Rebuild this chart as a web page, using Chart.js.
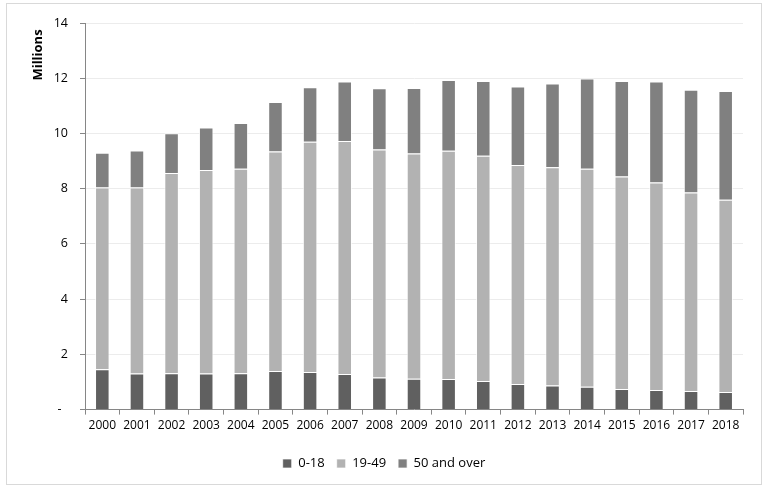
<!DOCTYPE html>
<html><head><meta charset="utf-8">
<script src="https://cdn.jsdelivr.net/npm/chart.js@4/dist/chart.umd.min.js"></script>
<style>html,body{margin:0;padding:0;background:#fff}#wrap{width:768px;height:490px;position:relative}</style>
</head><body><div id="wrap"><canvas id="c" width="768" height="490"></canvas></div>
<script>
const years = ['2000','2001','2002','2003','2004','2005','2006','2007','2008','2009','2010','2011','2012','2013','2014','2015','2016','2017','2018'];
const age0to18 = [1.46,1.31,1.32,1.31,1.32,1.40,1.36,1.29,1.16,1.12,1.11,1.04,0.93,0.87,0.83,0.75,0.71,0.67,0.64];
const age19to49 = [6.58,6.73,7.25,7.37,7.40,7.95,8.34,8.44,8.26,8.15,8.26,8.15,7.93,7.91,7.89,7.69,7.51,7.19,6.96];
const age50plus = [1.26,1.34,1.44,1.54,1.66,1.79,1.97,2.15,2.22,2.38,2.57,2.71,2.84,3.03,3.27,3.46,3.66,3.72,3.94];
const seriesNames = ['0-18','19-49','50 and over'];
const yAxisTitle = 'Millions';
const yMin = 0, yMax = 14, yStep = 2;

const FONT = "'Open Sans', 'DejaVu Sans', sans-serif";

const frame = {
  id: 'frame',
  beforeDraw(chart) {
    const ctx = chart.ctx;
    ctx.save();
    ctx.fillStyle = '#fff';
    ctx.fillRect(0, 0, chart.width, chart.height);
    ctx.strokeStyle = '#d9d9d9';
    ctx.lineWidth = 1;
    ctx.strokeRect(6.5, 3.5, 755, 481);
    ctx.restore();
  },
  afterDraw(chart) {
    const ctx = chart.ctx;
    ctx.save();
    ctx.translate(38, 55);
    ctx.rotate(-Math.PI / 2);
    ctx.font = "bold 13px " + FONT;
    ctx.fillStyle = '#000';
    ctx.textAlign = 'center';
    ctx.textBaseline = 'middle';
    ctx.fillText(yAxisTitle, 0, 0);
    ctx.restore();
  }
};

const mk = (label, data, color) => ({
  label, data, backgroundColor: color,
  borderColor: 'rgba(255,255,255,0.7)', borderWidth: 1,
  categoryPercentage: 1.0, barPercentage: 0.42
});

new Chart(document.getElementById('c'), {
  type: 'bar',
  data: {
    labels: years,
    datasets: [
      mk(seriesNames[0], age0to18, '#606060'),
      mk(seriesNames[1], age19to49, '#b2b2b2'),
      mk(seriesNames[2], age50plus, '#808080')
    ]
  },
  options: {
    responsive: false,
    animation: false,
    devicePixelRatio: 1,
    layout: { padding: { left: 0, right: 0, top: 23, bottom: 10 } },
    plugins: {
      tooltip: { enabled: false },
      legend: {
        position: 'bottom',
        labels: {
          boxWidth: 9, boxHeight: 9, padding: 12,
          color: '#000', font: { family: FONT, size: 13 }
        }
      }
    },
    scales: {
      x: {
        stacked: true,
        afterFit: s => { s.height += 8; },
        border: { color: '#868686' },
        grid: { offset: true, drawOnChartArea: false, tickLength: 5, color: '#868686' },
        ticks: { color: '#000', font: { family: FONT, size: 12 }, padding: 4, maxRotation: 0, autoSkip: false }
      },
      y: {
        stacked: true,
        min: yMin, max: yMax,
        afterFit: s => { s.width = 85; },
        border: { color: '#868686' },
        grid: { color: '#ececec', tickColor: '#868686', tickLength: 5 },
        ticks: {
          stepSize: yStep, color: '#000', padding: 12,
          font: { family: FONT, size: 12.5 },
          callback: v => v === 0 ? '-  ' : v
        }
      },
      yRight: {
        position: 'right',
        afterFit: s => { s.width = 25; },
        border: { display: false },
        grid: { display: false },
        ticks: { display: false }
      }
    }
  },
  plugins: [frame]
});
</script>
</body></html>
